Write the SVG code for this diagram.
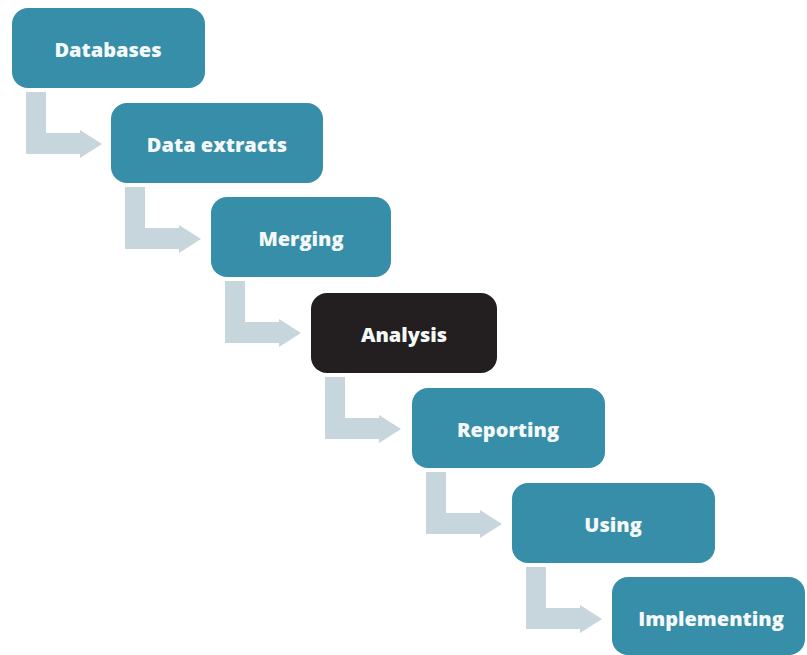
<svg xmlns="http://www.w3.org/2000/svg" width="807" height="655" viewBox="0 0 807 655">
  <defs>
    <!-- bent arrow: stem down, then right into the next step -->
    <path id="bend" d="M14 84 H34 V125 H68 V122 L90 136 L68 150 V146 H14 Z"/>
  </defs>
  <style>
    .box { fill: #368ea8; }
    .box.dark { fill: #231f20; }
    .arrow { fill: #c7d5dc; }
    .label { font-family: "Open Sans", "Lato", "Liberation Sans", sans-serif; font-weight: 800; font-size: 20px; fill: #f4f8f8; text-anchor: middle; }
  </style>
  <rect width="807" height="655" fill="#ffffff"/>

  <g id="connectors">
    <use href="#bend" class="arrow" x="12" y="8"/>
    <use href="#bend" class="arrow" x="111" y="103"/>
    <use href="#bend" class="arrow" x="211" y="197"/>
    <use href="#bend" class="arrow" x="311" y="293"/>
    <use href="#bend" class="arrow" x="412" y="388"/>
    <use href="#bend" class="arrow" x="512" y="483"/>
  </g>

  <g id="databases">
    <rect class="box" x="12" y="8" width="193" height="80" rx="16"/>
    <text class="label" x="108" y="57">Databases</text>
  </g>
  <g id="data-extracts">
    <rect class="box" x="111" y="103" width="212" height="80" rx="16"/>
    <text class="label" x="217" y="152">Data extracts</text>
  </g>
  <g id="merging">
    <rect class="box" x="211" y="197" width="180" height="80" rx="16"/>
    <text class="label" x="301" y="246">Merging</text>
  </g>
  <g id="analysis">
    <rect class="box dark" x="311" y="293" width="186" height="80" rx="16"/>
    <text class="label" x="404" y="342">Analysis</text>
  </g>
  <g id="reporting">
    <rect class="box" x="412" y="388" width="193" height="80" rx="16"/>
    <text class="label" x="508" y="437">Reporting</text>
  </g>
  <g id="using">
    <rect class="box" x="512" y="483" width="203" height="80" rx="16"/>
    <text class="label" x="613" y="532">Using</text>
  </g>
  <g id="implementing">
    <rect class="box" x="612" y="577" width="193" height="78" rx="16"/>
    <text class="label" x="711" y="626">Implementing</text>
  </g>
</svg>
